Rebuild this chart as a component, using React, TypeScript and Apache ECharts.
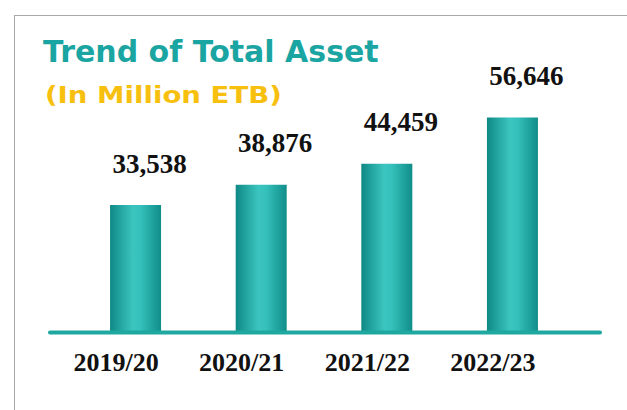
import React, { useEffect, useRef } from "react";
import * as echarts from "echarts";

const categories = ["2019/20", "2020/21", "2021/22", "2022/23"];
const totalAsset = [33538, 38876, 44459, 56646];
const titleText = "Trend of Total Asset";
const subtitleText = "(In Million ETB)";

export default function App() {
  const ref = useRef<HTMLDivElement>(null);
  useEffect(() => {
    if (!ref.current) return;
    const chart = echarts.init(ref.current, null, { renderer: "svg" });
    const barGradient = new echarts.graphic.LinearGradient(0, 0, 1, 0, [
      { offset: 0, color: "#0e8985" },
      { offset: 0.45, color: "#3cc5c0" },
      { offset: 0.6, color: "#35c0bb" },
      { offset: 1, color: "#108d89" },
    ]);
    chart.setOption({
      animation: false,
      backgroundColor: "#ffffff",
      title: [
        {
          text: titleText,
          left: 43,
          top: 36,
          padding: 0,
          textStyle: {
            fontFamily: "DejaVu Sans",
            fontWeight: "bold",
            fontSize: 30,
            lineHeight: 30,
            color: "#1aa5a2",
          },
        },
      ],
      grid: { left: 72.75, right: 51.75, top: 104.8, bottom: 78 },
      xAxis: {
        type: "category",
        data: categories,
        axisLine: { show: false },
        axisTick: { show: false },
        axisLabel: {
          margin: 17,
          padding: [0, 39, 0, 0],
          fontFamily: "Liberation Serif",
          fontWeight: "bold",
          fontSize: 26,
          lineHeight: 26,
          color: "#111111",
        },
      },
      yAxis: {
        type: "value",
        min: 0,
        max: 60000,
        show: false,
        splitLine: { show: false },
      },
      graphic: [
        {
          type: "line",
          shape: { x1: 14, y1: 15.5, x2: 627, y2: 15.5 },
          style: { stroke: "#a8a8a8", lineWidth: 1 },
        },
        {
          type: "line",
          shape: { x1: 14.5, y1: 15, x2: 14.5, y2: 410 },
          style: { stroke: "#a8a8a8", lineWidth: 1 },
        },
        {
          type: "text",
          x: 45,
          y: 95,
          scaleX: 1.2,
          style: {
            text: subtitleText,
            fontFamily: "DejaVu Sans",
            fontWeight: "bold",
            fontSize: 23,
            fill: "#f8c00e",
            verticalAlign: "middle",
            align: "left",
          },
        },
        {
          type: "line",
          shape: { x1: 50, y1: 332.5, x2: 600, y2: 332.5 },
          style: { stroke: "#1fa89f", lineWidth: 4, lineCap: "round" },
          z: 10,
        },
      ],
      series: [
        {
          type: "bar",
          data: totalAsset,
          barWidth: 51,
          itemStyle: { color: barGradient },
          label: {
            show: true,
            position: "top",
            distance: 28,
            offset: [14, 0],
            formatter: (p: any) => p.value.toLocaleString("en-US"),
            fontFamily: "Liberation Serif",
            fontWeight: "bold",
            fontSize: 27,
            lineHeight: 27,
            color: "#111111",
          },
        },
      ],
    });
    return () => chart.dispose();
  }, []);
  return (
    <div
      ref={ref}
      style={{ position: "fixed", left: 0, top: 0, width: 627, height: 410 }}
    />
  );
}
